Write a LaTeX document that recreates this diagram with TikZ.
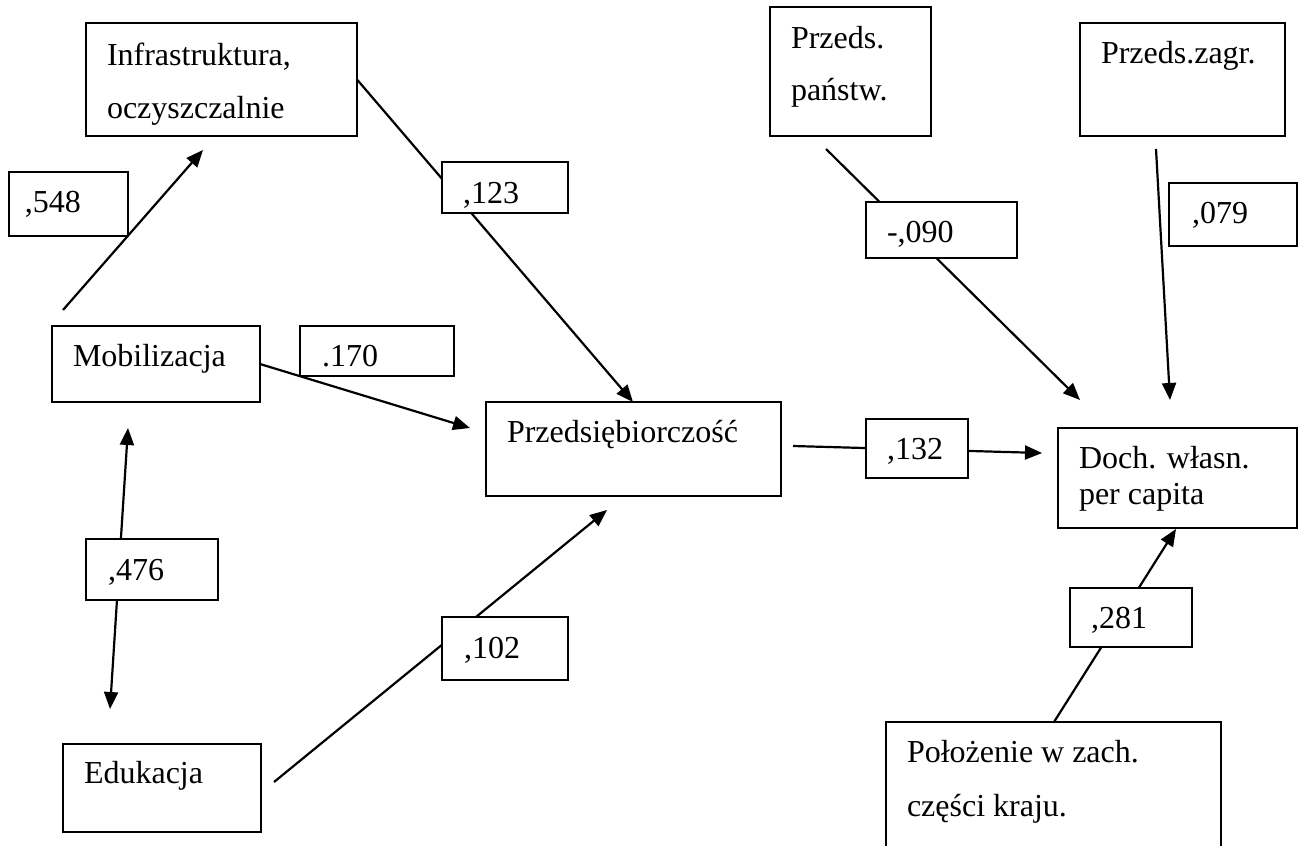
\documentclass[tikz,border=0pt]{standalone}
\usepackage{fontspec}
\setmainfont{Liberation Serif}
\usetikzlibrary{arrows.meta,calc,backgrounds}
% width, height, left pad, first baseline, line spacing, text
\newcommand{\bt}[6]{\parbox[t][#2][t]{#1}{\fontsize{32}{#5}\selectfont\raggedright\setlength{\leftskip}{#3}\setlength{\parskip}{0pt}\rule{0pt}{#4}#6}}
\begin{document}
\begin{tikzpicture}[x=1pt,y=-1pt,
  box/.style={draw, line width=2.2pt, fill=white, inner sep=0pt, outer sep=0pt, anchor=north west},
  conn/.style={line width=2.2pt, -{Triangle[length=17pt,width=14pt]}},
  conntwo/.style={line width=2.2pt, {Triangle[length=17pt,width=14pt]}-{Triangle[length=17pt,width=14pt]}}]
\path[use as bounding box, clip] (0,0) rectangle (1307,846);

\node[box] (infra)  at (86,23)   {\bt{271pt}{113pt}{21pt}{42pt}{53pt}{Infrastruktura,\\oczyszczalnie}};
\node[box] (l548)   at (9,172)   {\bt{119pt}{64pt}{16pt}{40pt}{36pt}{,548}};
\node[box] (l123)   at (442,162) {\bt{126pt}{51pt}{21pt}{41pt}{36pt}{,123}};
\node[box] (l170)   at (300,326) {\bt{154pt}{50pt}{22pt}{40pt}{36pt}{.170}};
\node[box] (mob)    at (52,326)  {\bt{208pt}{76pt}{21pt}{40pt}{36pt}{Mobilizacja}};
\node[box] (l476)   at (86,539)  {\bt{132pt}{61pt}{22pt}{41pt}{36pt}{,476}};
\node[box] (edu)    at (63,744)  {\bt{198pt}{88pt}{21pt}{39pt}{36pt}{Edukacja}};
\node[box] (l102)   at (442,617) {\bt{126pt}{63pt}{22pt}{41pt}{36pt}{,102}};
\node[box] (przeds) at (486,402) {\bt{295pt}{94pt}{21pt}{40pt}{36pt}{Przedsiębiorczość}};
\node[box] (l132)   at (866,419) {\bt{102pt}{59pt}{21pt}{40pt}{36pt}{,132}};
\node[box] (doch)   at (1058,428){\bt{239pt}{100pt}{21pt}{40pt}{36pt}{Doch. własn.\\per capita}};
\node[box] (panstw) at (770,7)   {\bt{161pt}{129pt}{21pt}{41pt}{52pt}{Przeds.\\państw.}};
\node[box] (zagr)   at (1080,23) {\bt{205pt}{113pt}{21pt}{40pt}{36pt}{Przeds.zagr.}};
\node[box] (l090)   at (866,202) {\bt{151pt}{56pt}{21pt}{40pt}{36pt}{-,090}};
\node[box] (l079)   at (1169,183){\bt{128pt}{63pt}{23pt}{40pt}{36pt}{,079}};
\node[box] (l281)   at (1070,588){\bt{122pt}{59pt}{21pt}{40pt}{36pt}{,281}};
\node[box] (polo)   at (886,722) {\bt{335pt}{140pt}{21pt}{40pt}{54pt}{Położenie w zach.\\części kraju.}};

\begin{scope}[on background layer]
\fill[white] (0,0) rectangle (1307,846);
\draw[conn] ($(mob.north west)+(11,-16)$) -- ($(infra.south west)+(117,14)$);
\draw[conn] (infra.east) -- ($(przeds.north west)+(147,0)$);
\draw[conn] (mob.east) -- ($(przeds.west)+(-16,-21)$);
\draw[conn] ($(edu.east)+(13,-6)$) -- ($(przeds.south west)+(121,14)$);
\draw[conntwo] ($(mob.south west)+(76,26)$) -- ($(edu.north west)+(47,-35)$);
\draw[conn] ($(przeds.east)+(12,-3)$) -- ($(doch.west)+(-16,-25)$);
\draw[conn] ($(panstw.south west)+(56,13)$) -- ($(doch.north west)+(22,-28)$);
\draw[conn] ($(zagr.south west)+(76,13)$) -- ($(doch.north west)+(112,-28)$);
\draw[conn] ($(polo.north west)+(168,0)$) -- ($(doch.south west)+(118,1)$);
\end{scope}
\end{tikzpicture}
\end{document}
